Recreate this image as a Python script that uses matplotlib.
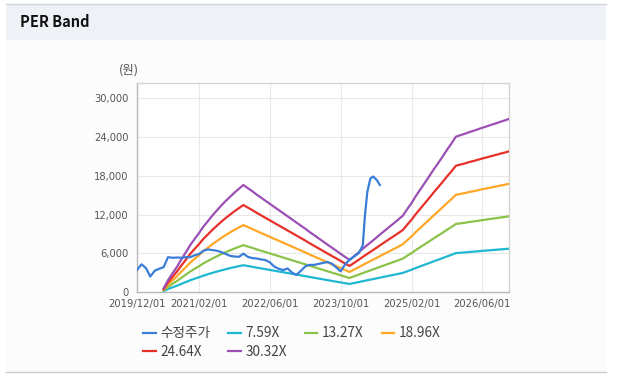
import numpy as np
import pandas as pd
import matplotlib
matplotlib.use("Agg")
import matplotlib.pyplot as plt
from matplotlib.patches import Rectangle
from matplotlib.lines import Line2D

KR = ['Noto Sans CJK KR', 'DejaVu Sans']

# adjusted share price (수정주가)
price_dates = [
    "2019-12-01", "2020-01-01", "2020-02-01", "2020-03-01", "2020-04-01", "2020-05-01",
    "2020-06-01", "2020-07-01", "2020-08-01", "2020-09-01", "2020-10-01", "2020-11-01",
    "2020-12-01", "2021-01-01", "2021-02-01", "2021-03-01", "2021-04-01", "2021-05-01",
    "2021-06-01", "2021-07-01", "2021-08-01", "2021-09-01", "2021-10-01", "2021-11-01",
    "2021-12-01", "2022-01-01", "2022-02-01", "2022-03-01", "2022-04-01", "2022-05-01",
    "2022-06-01", "2022-07-01", "2022-08-01", "2022-09-01", "2022-10-01", "2022-11-01",
    "2022-12-01", "2023-01-01", "2023-02-01", "2023-03-01", "2023-04-01", "2023-05-01",
    "2023-06-01", "2023-07-01", "2023-08-01", "2023-09-01", "2023-10-01", "2023-11-01",
    "2023-12-01", "2024-01-01", "2024-02-01", "2024-03-01", "2024-03-16", "2024-04-01",
    "2024-04-22", "2024-05-11", "2024-06-04", "2024-06-26",
]
price = [
    3400, 4300, 3700, 2400, 3300, 3600,
    3850, 5400, 5300, 5350, 5300, 5400,
    5400, 5700, 5900, 6400, 6600, 6500,
    6400, 6200, 5900, 5600, 5500, 5450,
    5950, 5450, 5250, 5200, 5050, 4950,
    4600, 3950, 3600, 3400, 3650, 3000,
    2650, 3300, 4000, 4200, 4200, 4350,
    4500, 4650, 4400, 3800, 3200, 4300,
    5000, 5500, 6000, 7200, 11900, 15500,
    17600, 17900, 17400, 16600,
]

# EPS used for the bands, monthly from 2020-06 to 2026-12
eps_start = "2020-06-01"
eps = [
    19, 60, 95, 129, 167, 203, 240, 272, 303, 334, 362, 390, 416, 441, 465, 487, 508, 528,
    547, 531, 515, 499, 483, 467, 451, 435, 419, 403, 387, 371, 355, 339, 323, 307, 291,
    275, 259, 243, 227, 211, 195, 179, 164, 183, 202, 221, 240, 258, 277, 296, 315, 334,
    352, 371, 390, 424, 457, 491, 525, 558, 592, 626, 659, 693, 727, 760, 794, 802, 809,
    817, 824, 832, 840, 847, 855, 862, 870, 877, 885,
]
multiples = [7.59, 13.27, 18.96, 24.64, 30.32]
band_labels = ["7.59X", "13.27X", "18.96X", "24.64X", "30.32X"]
band_colors = ["#1fb8d0", "#8bc34a", "#ffa726", "#e8302a", "#9c4fb4"]
price_color = "#3a7dd8"

xtick_labels = ["2019/12/01", "2021/02/01", "2022/06/01", "2023/10/01", "2025/02/01", "2026/06/01"]
yticks = [0, 6000, 12000, 18000, 24000, 30000]

fig = plt.figure(figsize=(6.18, 3.87), dpi=100)
fig.patch.set_facecolor("white")

# panel background, header strip and borders
fig.patches.append(Rectangle((6 / 618, 1 - 372 / 387), 600 / 618, 332 / 387,
                             transform=fig.transFigure, facecolor="#fcfcfd",
                             edgecolor="none", zorder=-3))
fig.patches.append(Rectangle((6 / 618, 1 - 40 / 387), 600 / 618, 36 / 387,
                             transform=fig.transFigure, facecolor="#eef2f7",
                             edgecolor="none", zorder=-2))
fig.lines.append(Line2D([6 / 618, 606 / 618], [1 - 4 / 387, 1 - 4 / 387],
                        transform=fig.transFigure, color="#d0d3d8", lw=1))
fig.lines.append(Line2D([6 / 618, 606 / 618], [1 - 372 / 387, 1 - 372 / 387],
                        transform=fig.transFigure, color="#c8cbd0", lw=1))
fig.text(20 / 618, 1 - 22 / 387, "PER Band", family=KR, fontweight="bold",
         fontsize=10.5, color="#111111", va="center", ha="left")

ax = fig.add_axes([137 / 618, 1 - 292 / 387, 372 / 618, 209 / 387])
ax.set_facecolor("white")

px = pd.to_datetime(price_dates)
ed = pd.date_range(eps_start, periods=len(eps), freq="MS")
eps_arr = np.array(eps, dtype=float)

for m, lab, col in zip(multiples, band_labels, band_colors):
    ax.plot(ed, eps_arr * m, color=col, lw=1.6, label=lab, zorder=3)
ax.plot(px, price, color=price_color, lw=1.6, label="수정주가", zorder=4)

ax.set_xlim(pd.Timestamp("2019-12-01"), pd.Timestamp("2026-12-01"))
ax.set_ylim(0, 32400)
ax.set_yticks(yticks)
ax.set_yticklabels([f"{v:,}" for v in yticks])
ax.set_xticks(pd.to_datetime(xtick_labels, format="%Y/%m/%d"))
ax.set_xticklabels(xtick_labels)
ax.tick_params(axis="both", length=0, labelsize=7.2, colors="#555555")
ax.tick_params(axis="y", pad=6)
ax.tick_params(axis="x", pad=5)
ax.grid(True, color="#e8e8e8", lw=0.8)
ax.set_axisbelow(True)
for s in ax.spines.values():
    s.set_color("#d4d4d4")
    s.set_linewidth(1)
ax.spines["left"].set_color("#b8b8b8")
ax.spines["bottom"].set_color("#b8b8b8")

fig.text(129 / 618, 1 - 70 / 387, "(원)", family=KR, fontsize=9, color="#555555",
         ha="center", va="center")

# legend in row order: price, bands...
h, l = ax.get_legend_handles_labels()
order = [5, 3, 0, 4, 1, 2]
leg = fig.legend([h[i] for i in order], [l[i] for i in order], ncol=4,
                 loc="upper left", bbox_to_anchor=(138 / 618, 1 - 321 / 387),
                 frameon=False, prop={"family": KR, "size": 9.8},
                 handlelength=0.9, handletextpad=0.37, columnspacing=1.3,
                 labelspacing=0.3, borderaxespad=0)
for t in leg.get_texts():
    t.set_color("#444444")

fig.savefig("out.png", dpi=100)
